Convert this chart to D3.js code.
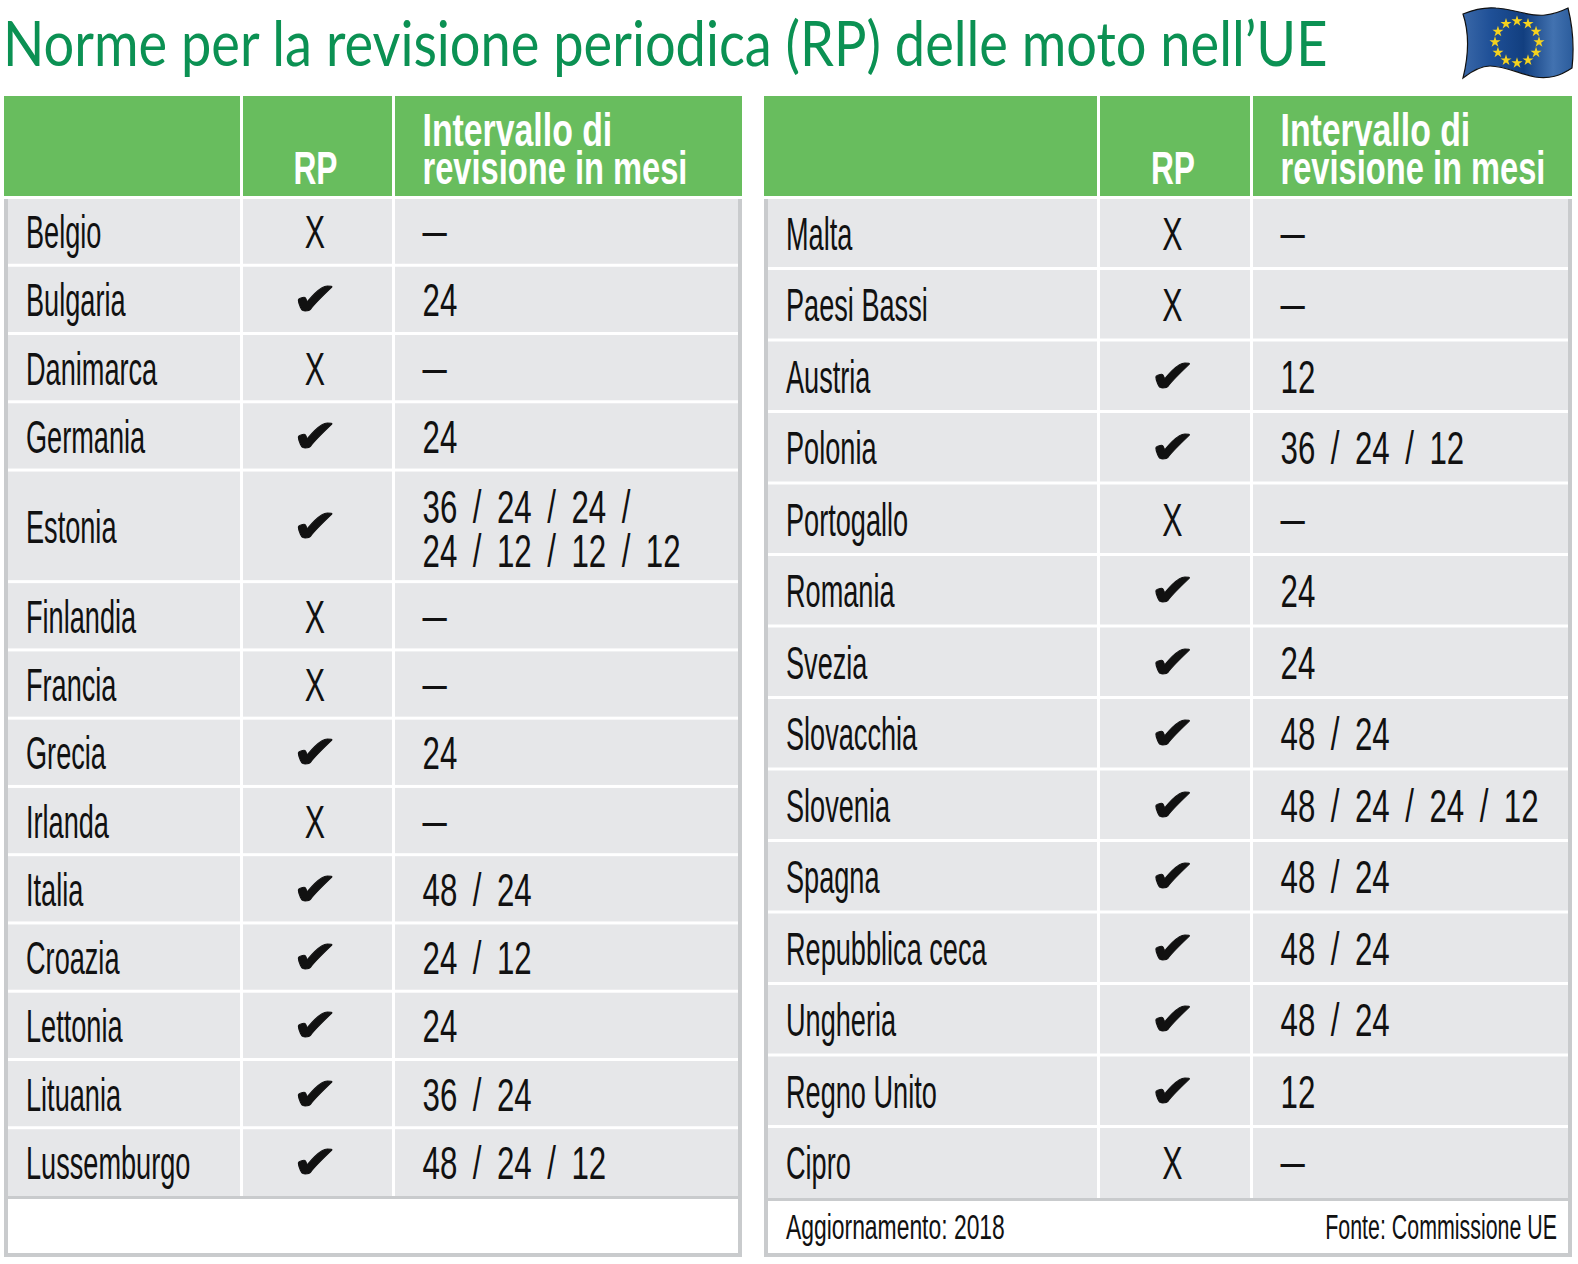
<!DOCTYPE html>
<html>
<head>
<meta charset="utf-8">
<script src="https://cdn.jsdelivr.net/npm/d3@7"></script>
<style>
  body { margin: 0; background: #fff; }
  text { font-family: "Liberation Sans Narrow", "Liberation Sans", sans-serif; fill: #111; }
</style>
</head>
<body>
<div id="chart"></div>
<script>
const titleText = "Norme per la revisione periodica (RP) delle moto nell’UE"
const headerRp = "RP"
const headerInterval = ["Intervallo di", "revisione in mesi"]
const updateNote = "Aggiornamento: 2018"
const sourceNote = "Fonte: Commissione UE"

const leftCountries = ["Belgio", "Bulgaria", "Danimarca", "Germania", "Estonia", "Finlandia", "Francia", "Grecia", "Irlanda", "Italia", "Croazia", "Lettonia", "Lituania", "Lussemburgo"]
const leftRp = [0, 1, 0, 1, 1, 0, 0, 1, 0, 1, 1, 1, 1, 1]
const leftIntervals = [["–"], ["24"], ["–"], ["24"], ["36 / 24 / 24 /", "24 / 12 / 12 / 12"], ["–"], ["–"], ["24"], ["–"], ["48 / 24"], ["24 / 12"], ["24"], ["36 / 24"], ["48 / 24 / 12"]]

const rightCountries = ["Malta", "Paesi Bassi", "Austria", "Polonia", "Portogallo", "Romania", "Svezia", "Slovacchia", "Slovenia", "Spagna", "Repubblica ceca", "Ungheria", "Regno Unito", "Cipro"]
const rightRp = [0, 0, 1, 1, 0, 1, 1, 1, 1, 1, 1, 1, 1, 0]
const rightIntervals = [["–"], ["–"], ["12"], ["36 / 24 / 12"], ["–"], ["24"], ["24"], ["48 / 24"], ["48 / 24 / 24 / 12"], ["48 / 24"], ["48 / 24"], ["48 / 24"], ["12"], ["–"]]

const width = 1578
const height = 1264

const svg = d3.select("#chart").append("svg")
  .attr("width", width)
  .attr("height", height)
  .style("display", "block")

const green = "#68bd5e"
const rowGrey = "#e6e7e9"
const edgeGrey = "#c9cbcd"

// narrow the font a bit more, the original face is very condensed
function squeezed (sel, x, y, sx) {
  return sel.attr("transform", "translate(" + x + "," + y + ") scale(" + sx + ",1)")
}

svg.append("text")
  .text(titleText)
  .style("font-family", "Lato, sans-serif")
  .style("font-size", "61px")
  .style("fill", "#0b9153")
  .call(squeezed, 3, 66, 0.888)

function drawTable (t) {
  const g = svg.append("g")
  const rowEnds = d3.cumsum(t.countries.map((d, i) => t.intervals[i].length > 1 ? 1.635 : 1))
  const yScale = d3.scaleLinear()
    .domain([0, rowEnds[rowEnds.length - 1]])
    .range([t.top, t.bottom])

  // frame and footer
  g.append("rect")
    .attr("x", t.x0).attr("y", t.top + 2)
    .attr("width", t.x1 - t.x0).attr("height", t.foot - t.top - 2)
    .attr("fill", edgeGrey)
  g.append("rect")
    .attr("x", t.x0 + 4).attr("y", t.bottom + 3)
    .attr("width", t.x1 - t.x0 - 8).attr("height", t.foot - t.bottom - 7)
    .attr("fill", "#fff")

  // header
  const columns = [t.x0, t.col1, t.col2, t.x1]
  g.selectAll(".head")
    .data(d3.range(3))
    .join("rect")
    .attr("class", "head")
    .attr("x", i => columns[i] + (i ? 1.5 : 0))
    .attr("y", 96)
    .attr("width", i => columns[i + 1] - columns[i] - (i == 2 ? 1.5 : i ? 3 : 1.5))
    .attr("height", 100)
    .attr("fill", green)

  g.append("text").text(headerRp)
    .attr("text-anchor", "middle")
    .style("font-weight", 700).style("font-size", "46px").style("fill", "#fff")
    .call(squeezed, (t.col1 + t.col2) / 2 - 2, 184, 0.69)
  g.selectAll(".headline")
    .data(headerInterval)
    .join("text")
    .attr("class", "headline")
    .text(d => d)
    .style("font-weight", 700).style("font-size", "46px").style("fill", "#fff")
    .each(function (d, i) { d3.select(this).call(squeezed, t.col2 + 29, 146 + i * 38, i ? 0.71 : 0.735) })

  // rows
  const rows = g.selectAll(".row")
    .data(t.countries)
    .join("g")
    .attr("class", "row")
    .attr("transform", (d, i) => "translate(0," + yScale(i ? rowEnds[i - 1] : 0) + ")")
  const rowHeight = (d, i) => yScale(rowEnds[i]) - yScale(i ? rowEnds[i - 1] : 0)

  d3.range(3).forEach(c => {
    rows.append("rect")
      .attr("x", columns[c] + (c ? 1.5 : 4))
      .attr("y", (d, i) => i ? 1.5 : 2)
      .attr("width", columns[c + 1] - columns[c] - (c == 0 ? 5.5 : c == 1 ? 3 : 5.5))
      .attr("height", (d, i) => rowHeight(d, i) - (i ? 3 : 3.5) - (i == t.countries.length - 1 ? -1.5 : 0))
      .attr("fill", rowGrey)
  })
  // white gutters between the grey cells behind the rows
  g.insert("rect", ".row")
    .attr("x", t.x0 + 4).attr("y", t.top)
    .attr("width", t.x1 - t.x0 - 8).attr("height", t.bottom - t.top)
    .attr("fill", "#fff")

  rows.append("text")
    .text(d => d)
    .style("font-size", "46px")
    .each(function (d, i) {
      d3.select(this).call(squeezed, t.x0 + 22, rowHeight(d, i) / 2 + 17, 0.59)
    })

  rows.append("text")
    .text((d, i) => t.rp[i] ? "✔" : "X")
    .attr("text-anchor", "middle")
    .style("font-family", (d, i) => t.rp[i] ? "DejaVu Sans" : null)
    .style("font-size", (d, i) => t.rp[i] ? "46px" : "46px")
    .style("stroke", (d, i) => t.rp[i] ? "#111" : "none")
    .style("stroke-width", 1)
    .each(function (d, i) {
      d3.select(this).call(squeezed, (t.col1 + t.col2) / 2 - 2.5, rowHeight(d, i) / 2 + (t.rp[i] ? 16 : 17), t.rp[i] ? 1.2 : 0.66)
    })

  rows.each(function (d, i) {
    const lines = t.intervals[i]
    d3.select(this).selectAll(".interval")
      .data(lines)
      .join("text")
      .attr("class", "interval")
      .text(l => l)
      .style("font-size", "46px")
      .style("word-spacing", "10px")
      .each(function (l, k) {
        const dash = l === "–"
        const base = lines.length > 1 ? rowHeight(d, i) / 2 - 3 + k * 44 : rowHeight(d, i) / 2 + (dash ? 15 : 17)
        d3.select(this).call(squeezed, t.col2 + 29, base, dash ? 0.95 : 0.68)
      })
  })
}

drawTable({ countries: leftCountries, rp: leftRp, intervals: leftIntervals,
  x0: 4, col1: 241.5, col2: 393.5, x1: 742, top: 197, bottom: 1196, foot: 1257 })
drawTable({ countries: rightCountries, rp: rightRp, intervals: rightIntervals,
  x0: 764, col1: 1098.5, col2: 1251.5, x1: 1572, top: 197, bottom: 1198, foot: 1257 })

svg.append("text").text(updateNote)
  .style("font-size", "35px")
  .call(squeezed, 786, 1239, 0.654)
svg.append("text").text(sourceNote)
  .attr("text-anchor", "end")
  .style("font-size", "35px")
  .call(squeezed, 1557, 1239, 0.611)

// EU flag
const defs = svg.append("defs")
const flagFill = defs.append("linearGradient").attr("id", "flagFill")
flagFill.selectAll("stop")
  .data([["0%", "#3a68a8"], ["25%", "#1f5097"], ["55%", "#123f80"], ["82%", "#4272b0"], ["100%", "#2b5c9c"]])
  .join("stop")
  .attr("offset", d => d[0])
  .attr("stop-color", d => d[1])

svg.append("path")
  .attr("d", "M1463,14 C1475,9 1485,7 1496,8 C1515,9 1530,17 1545,15 C1555,14 1562,11 1568,8 C1573,28 1574,50 1572,68 C1560,76 1550,79 1535,77 C1520,74 1505,66 1490,66 C1480,66 1472,71 1463,78 C1468,58 1470,35 1463,14 Z")
  .attr("fill", "url(#flagFill)")
  .attr("stroke", "#111")
  .attr("stroke-width", 1.2)

const starAngles = d3.range(12).map(i => i * 30)
const star = d3.symbol().type(d3.symbolStar).size(38)
svg.selectAll(".star")
  .data(starAngles)
  .join("path")
  .attr("class", "star")
  .attr("d", star)
  .attr("fill", "#f5d21f")
  .attr("transform", d => "translate(" + (1517 + 22 * Math.sin(d * Math.PI / 180)) + "," + (42 - 21 * Math.cos(d * Math.PI / 180)) + ")")
</script>
</body>
</html>
